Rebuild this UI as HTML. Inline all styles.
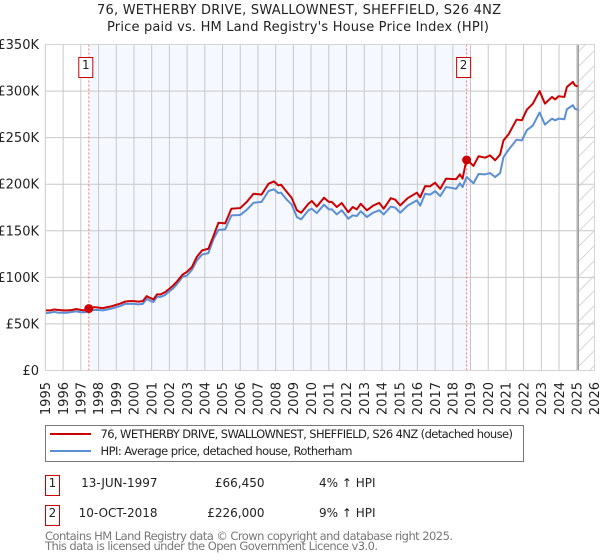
<!DOCTYPE html>
<html>
<head>
<meta charset="utf-8">
<title>76, Wetherby Drive price chart</title>
<style>
html,body{margin:0;padding:0;background:#fff;}
svg{display:block;}
text{font-family:"DejaVu Sans","Liberation Sans",sans-serif;fill:#222;}
</style>
</head>
<body>
<svg id="chart" xmlns="http://www.w3.org/2000/svg" width="600" height="560" viewBox="0 0 600 560">
<defs>
<pattern id="hatch" patternUnits="userSpaceOnUse" width="15" height="15">
<path d="M-2 17 L17 -2" stroke="#d6d6d6" stroke-width="1" fill="none"/>
<path d="M-2 2 L2 -2 M13 17 L17 13" stroke="#d6d6d6" stroke-width="1" fill="none"/>
</pattern>
</defs>
<text x="97" y="14" font-size="13" textLength="404">76, WETHERBY DRIVE, SWALLOWNEST, SHEFFIELD, S26 4NZ</text>
<text x="107" y="31" font-size="13" textLength="382">Price paid vs. HM Land Registry's House Price Index (HPI)</text>
<g id="plot"></g>

<rect x="45.5" y="425.5" width="478" height="36" fill="#fff" stroke="#777" stroke-width="1"/>
<line x1="50" x2="91" y1="434" y2="434" stroke="#cc0000" stroke-width="2"/>
<text x="100.5" y="438" font-size="11.5" textLength="412.5">76, WETHERBY DRIVE, SWALLOWNEST, SHEFFIELD, S26 4NZ (detached house)</text>
<line x1="50" x2="91" y1="451" y2="451" stroke="#5b8fd4" stroke-width="2"/>
<text x="100.5" y="455" font-size="11.5" textLength="252">HPI: Average price, detached house, Rotherham</text>

<rect x="45.5" y="475.5" width="14" height="20" fill="#fff" stroke="#cc0000" stroke-width="1"/>
<text x="52.5" y="487" font-size="12" text-anchor="middle">1</text>
<text x="157.5" y="487" font-size="12" text-anchor="end">13-JUN-1997</text>
<text x="264.5" y="487" font-size="12" text-anchor="end">£66,450</text>
<text x="319" y="487" font-size="12">4% ↑ HPI</text>

<rect x="45.5" y="505.5" width="14" height="20" fill="#fff" stroke="#cc0000" stroke-width="1"/>
<text x="52.5" y="517" font-size="12" text-anchor="middle">2</text>
<text x="157.5" y="517" font-size="12" text-anchor="end">10-OCT-2018</text>
<text x="264.5" y="517" font-size="12" text-anchor="end">£226,000</text>
<text x="319" y="517" font-size="12">9% ↑ HPI</text>

<text x="45" y="540" font-size="11.5" style="fill:#777" textLength="408">Contains HM Land Registry data © Crown copyright and database right 2025.</text>
<text x="45" y="550" font-size="11.5" style="fill:#777" textLength="333">This data is licensed under the Open Government Licence v3.0.</text>
</svg>
<script>
var dates = [1995,1995.25,1995.5,1995.75,1996,1996.25,1996.5,1996.75,1997,1997.25,1997.45,1997.75,1998,1998.25,1998.5,1998.75,1999,1999.25,1999.5,1999.75,2000,2000.25,2000.5,2000.72,2000.9,2001.1,2001.3,2001.5,2001.75,2002,2002.2,2002.4,2002.75,2003,2003.27,2003.55,2003.85,2004.2,2004.5,2004.77,2005.15,2005.5,2006,2006.37,2006.75,2007.2,2007.6,2007.9,2008.15,2008.3,2008.66,2008.9,2009.2,2009.44,2009.85,2010.04,2010.32,2010.73,2011,2011.17,2011.45,2011.73,2012.1,2012.35,2012.58,2012.8,2013.15,2013.5,2013.85,2014.1,2014.5,2014.75,2015.03,2015.45,2015.97,2016.16,2016.44,2016.72,2017,2017.29,2017.62,2017.94,2018.19,2018.4,2018.55,2018.78,2019.17,2019.45,2019.83,2020.1,2020.39,2020.67,2020.86,2021.15,2021.6,2021.9,2022.18,2022.52,2022.9,2023.2,2023.6,2023.78,2023.97,2024.3,2024.44,2024.78,2024.9,2025.05];
var hpiValues = [61.5,62,63,62,62,62,63,63.5,62.5,62.5,64,65,65,64.5,65.5,66.5,68,69.5,71.5,71.5,71.5,71,71.5,77,75,73.5,79,79,81,85,88,92,100.6,102,108,118,124.6,126,141.5,151,151.5,166.6,167,172.6,180,181,192.7,194.5,190.5,191,182.7,178.4,164.7,162.3,172,173.7,169,178,173,173,167.6,172,163,166.6,165.8,171,164.8,169.4,172,167.6,176,174.8,169.4,177,182.7,177,189.8,188.8,192.7,187.3,197,196,195,201,197,207.7,201,211,210.6,212,207.7,212,229,237,247.8,247,258,263,277,264,270.4,268.6,270.4,269.7,280.5,284.8,280.8,280];
var priceValues = [64.5,64.5,65.5,65,64.5,64.5,65,66,65,64.5,66.45,68,67.5,67,68,69,70.5,72,74,74.5,74.5,74,74.5,79.9,78,76.3,81.7,81.7,84,87.8,91,94.9,103,106,111,122,129,130.7,145,158.6,158,173.7,174.4,181,189.8,188.8,200.6,203,198.8,199.5,191,185.5,172,169.4,179,182,176,185.5,181,181,175.5,179.8,170,175.5,173,179,172,177,180,173.7,185,183.4,177.3,185,190.9,186,198,197.7,201.6,195,206,205.6,205.5,210.6,206,226.7,219.6,230,228.5,231,225.7,231.8,247,253.6,269.4,268.6,280,286.5,300,286.5,293.7,291,294.4,293.7,304.4,309.8,306,305];
var saleDates = [1997.45,2018.78];
var salePrices = [66.45,226];
var saleLabels = ["1","2"];
var yTickValues = [0,50,100,150,200,250,300,350];
var yTickLabels = ["£0","£50K","£100K","£150K","£200K","£250K","£300K","£350K"];
var xTickYears = [1995,1996,1997,1998,1999,2000,2001,2002,2003,2004,2005,2006,2007,2008,2009,2010,2011,2012,2013,2014,2015,2016,2017,2018,2019,2020,2021,2022,2023,2024,2025,2026];
var dataEndYear = 2025.08;

var NS = 'http://www.w3.org/2000/svg';
var plot = document.getElementById('plot');
var xStart = 1995, xEnd = 2026, yMax = 350;
var left = 45.4, right = 594.5, top_ = 44.5, bottom = 370.5;
function xScale(t){ return left + (t - xStart) / (xEnd - xStart) * (right - left); }
function yScale(v){ return bottom - v / yMax * (bottom - top_); }
function make(tag, attrs, parent, txt){
  var el = document.createElementNS(NS, tag);
  for (var k in attrs) el.setAttribute(k, attrs[k]);
  if (txt !== undefined) el.textContent = txt;
  (parent || plot).appendChild(el);
  return el;
}
var el;

el = make('rect', {x:xScale(saleDates[0]), y:top_, width:xScale(saleDates[1])-xScale(saleDates[0]), height:bottom-top_, fill:'#f5f8ff'});



el = make('rect', {x:xScale(dataEndYear), y:top_, width:right-xScale(dataEndYear), height:bottom-top_, fill:'url(#hatch)'});



yTickValues.forEach(function(v, i){
  var g = make('line', {x1:left, x2:right, y1:yScale(v), y2:yScale(v), stroke:'#c8c8c8', 'stroke-width':1});
  
  
  var t = make('text', {x:39, y:yScale(v)+4.5, 'font-size':13, 'text-anchor':'end'}, plot, yTickLabels[i]);
  
  
});
xTickYears.forEach(function(yr){
  var x = xScale(yr);
  var g = make('line', {x1:x, x2:x, y1:top_, y2:bottom, stroke:'#c8c8c8', 'stroke-width':1});
  
  
  var t = make('text', {x:0, y:0, 'font-size':13, 'text-anchor':'end', transform:'translate('+(x+4.7)+',382) rotate(-90)'}, plot, String(yr));
  
  
});

el = make('line', {x1:xScale(dataEndYear), x2:xScale(dataEndYear), y1:top_, y2:bottom, stroke:'#999', 'stroke-width':1.5});



saleDates.forEach(function(d){
  var x = xScale(d);
  var l = make('line', {x1:x, x2:x, y1:top_, y2:bottom, stroke:'#ff7070', 'stroke-width':1, 'stroke-dasharray':'2 2'});
  
  
});

function linePoints(values){
  return values.map(function(v, i){ return xScale(dates[i]).toFixed(2) + ',' + yScale(v).toFixed(2); }).join(' ');
}
el = make('polyline', {points:linePoints(hpiValues), fill:'none', stroke:'#5b8fd4', 'stroke-width':2, 'stroke-linejoin':'round'});


el = make('polyline', {points:linePoints(priceValues), fill:'none', stroke:'#cc0000', 'stroke-width':2, 'stroke-linejoin':'round'});



saleDates.forEach(function(d, i){
  var x = xScale(d);
  var c = make('circle', {cx:x, cy:yScale(salePrices[i]), r:4.5, fill:'#cc0000'});
  
  
  var r = make('rect', {x:x-10, y:57.5, width:14, height:20, fill:'#fff', stroke:'#cc0000', 'stroke-width':1});
  
  
  var t = make('text', {x:x-3, y:69, 'font-size':12, 'text-anchor':'middle'}, plot, saleLabels[i]);
  
  
});

el = make('rect', {x:left, y:top_, width:right-left, height:bottom-top_, fill:'none', stroke:'#d4d4d4', 'stroke-width':1});


</script>
</body>
</html>
